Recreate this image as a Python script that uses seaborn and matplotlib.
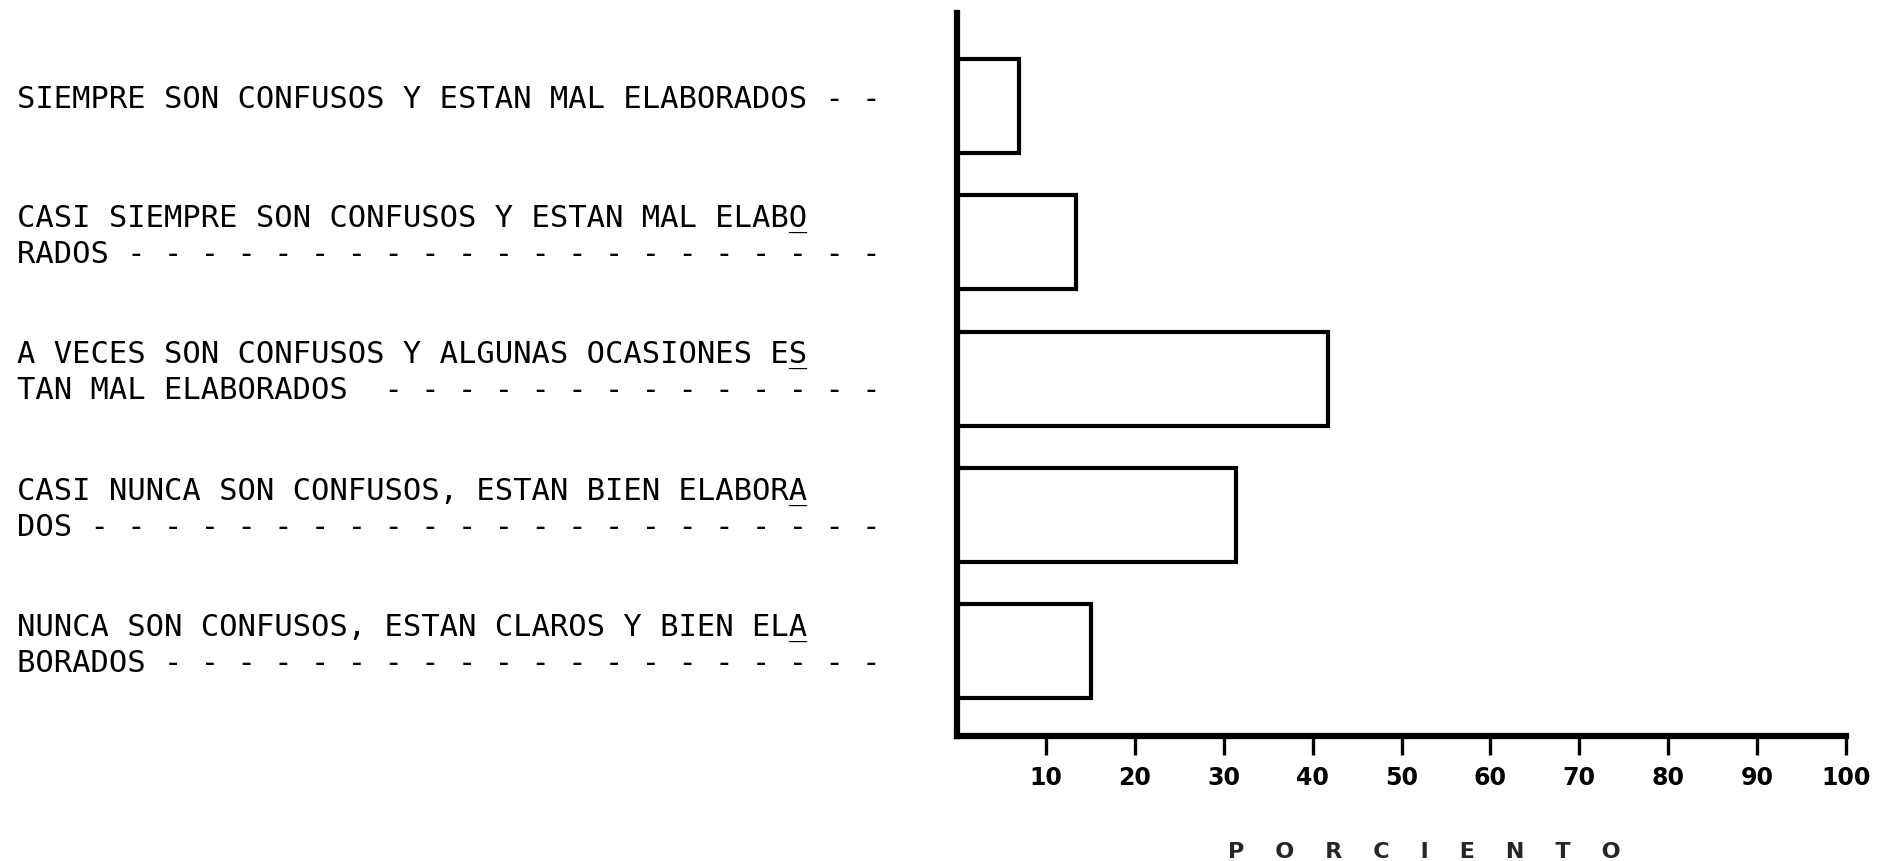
import matplotlib
matplotlib.use("Agg")
import matplotlib.pyplot as plt
import matplotlib.transforms as mtransforms
import pandas as pd
import seaborn as sns

# respuestas (primera linea / segunda linea con guiones)
linea1 = [
    "SIEMPRE SON CONFUSOS Y ESTAN MAL ELABORADOS - -",
    "CASI SIEMPRE SON CONFUSOS Y ESTAN MAL ELABO",
    "A VECES SON CONFUSOS Y ALGUNAS OCASIONES ES",
    "CASI NUNCA SON CONFUSOS, ESTAN BIEN ELABORA",
    "NUNCA SON CONFUSOS, ESTAN CLAROS Y BIEN ELA",
]
linea2 = [
    None,
    "RADOS" + " -" * 21,
    "TAN MAL ELABORADOS " + " -" * 14,
    "DOS" + " -" * 22,
    "BORADOS" + " -" * 20,
]
porcentajes = [7.0, 13.4, 41.7, 31.4, 15.1]
ticks_x = [10, 20, 30, 40, 50, 60, 70, 80, 90, 100]
titulo_x = "P    O    R    C    I    E    N    T    O"

df = pd.DataFrame({"respuesta": [f"r{i}" for i in range(len(porcentajes))],
                   "porciento": porcentajes})

sns.set_style("ticks")
plt.rcParams["font.family"] = ["DejaVu Sans"]

fig = plt.figure(figsize=(18.78, 8.62), dpi=100)
ax = fig.add_axes([0.5096, 0.145, 0.4734, 0.8387])

sns.barplot(data=df, x="porciento", y="respuesta", orient="h", color="white",
            edgecolor="black", linewidth=3.0, width=0.69, saturation=1, ax=ax)

ax.set_xlim(0, 100)
ax.set_ylim(4.62, -0.68)
ax.set_xticks(ticks_x)
ax.set_xticklabels([str(t) for t in ticks_x], fontsize=17, fontweight="bold")
ax.tick_params(axis="x", direction="out", length=14, width=2.4, pad=7, colors="black")
ax.set_yticks([])
ax.set_ylabel("")
ax.set_xlabel(titulo_x, fontsize=16, fontweight="bold")
ax.xaxis.set_label_coords(0.526, -0.145)

sns.despine(ax=ax)
for s in ["left", "bottom"]:
    ax.spines[s].set_linewidth(4.5)
    ax.spines[s].set_color("black")

# etiquetas de texto a la izquierda
trans = mtransforms.blended_transform_factory(fig.transFigure, ax.transData)
for i, (l1, l2) in enumerate(zip(linea1, linea2)):
    texto = l1 if l2 is None else l1 + "\n" + l2
    ax.text(0.009, i - 0.05, texto, transform=trans, ha="left", va="center",
            family="DejaVu Sans Mono", fontsize=22, linespacing=1.3, color="black")
    if l2 is not None:
        # subrayado de la ultima letra (corte de palabra)
        sub = " " * (len(l1) - 1) + "_" + "\n" + " "
        ax.text(0.009, i - 0.05, sub, transform=trans, ha="left", va="center",
                family="DejaVu Sans Mono", fontsize=22, linespacing=1.3, color="black")

fig.savefig("out.png", dpi=100)
